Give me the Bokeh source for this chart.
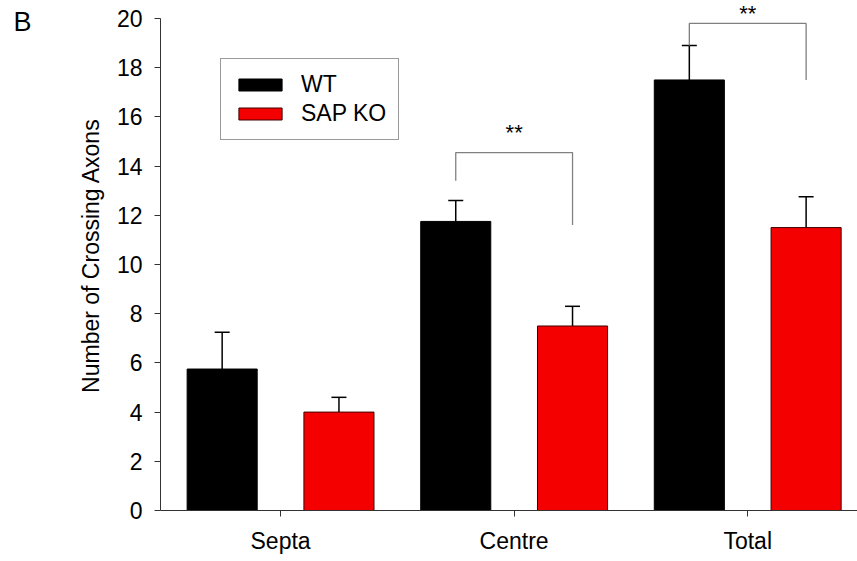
import numpy as np
from bokeh.plotting import figure
from bokeh.models import (Range1d, FixedTicker, ColumnDataSource, Whisker, TeeHead,
                          Legend, LegendItem, Label, LinearAxis)
from bokeh.transform import dodge
from bokeh.embed import file_html
from bokeh.resources import INLINE

# ---- data ----
categories = ["Septa", "Centre", "Total"]
wt_values = [5.75, 11.75, 17.5]
wt_errors = [1.5, 0.85, 1.4]
ko_values = [4.0, 7.5, 11.5]
ko_errors = [0.6, 0.8, 1.25]
series_names = ["WT", "SAP KO"]
y_ticks = [0, 2, 4, 6, 8, 10, 12, 14, 16, 18, 20]
# significance brackets (between WT and SAP KO of a category)
sig_categories = ["Centre", "Total"]
sig_top = [14.55, 19.8]
sig_left_bottom = [13.4, 18.9]
sig_right_bottom = [11.6, 17.5]
sig_text = ["**", "**"]
sig_text_y = [15.88, 20.72]
panel_letter = "B"
panel_letter_y = 19.84

FONT = "Liberation Sans"
RED = "#f40000"
OFF = 0.25
BW = 0.30

pos = np.arange(1, len(categories) + 1).astype(float)
cat_pos = dict(zip(categories, pos))

p = figure(width=857, height=561, output_backend="svg", toolbar_location=None,
           x_range=Range1d(0.486, 3.47), y_range=Range1d(0, 20.73),
           min_border_left=160, min_border_right=0, min_border_top=0,
           min_border_bottom=51)
p.outline_line_color = None
p.grid.visible = False
p.background_fill_color = "white"

src = ColumnDataSource(dict(x=pos, wt=wt_values, ko=ko_values,
                            wt_up=np.array(wt_values) + np.array(wt_errors),
                            ko_up=np.array(ko_values) + np.array(ko_errors)))

r_wt = p.vbar(x=dodge("x", -OFF), top="wt", width=BW, source=src,
              fill_color="black", line_color="black", line_width=1)
r_ko = p.vbar(x=dodge("x", OFF), top="ko", width=BW, source=src,
              fill_color=RED, line_color="#400000", line_width=1)

for base, up, off in [("wt", "wt_up", -OFF), ("ko", "ko_up", OFF)]:
    w = Whisker(base=dodge("x", off), lower=base, upper=up, source=src,
                dimension="height", line_color="black", line_width=1.5,
                upper_head=TeeHead(size=15, line_color="black", line_width=1.5),
                lower_head=None)
    p.add_layout(w)

# significance brackets
xs, ys = [], []
for c, t, lb, rb in zip(sig_categories, sig_top, sig_left_bottom, sig_right_bottom):
    cx = cat_pos[c]
    xs.append([cx - OFF, cx - OFF, cx + OFF, cx + OFF])
    ys.append([lb, t, t, rb])
p.multi_line(xs, ys, line_color="#808080", line_width=1.3)
for c, t, ty in zip(sig_categories, sig_text, sig_text_y):
    p.add_layout(Label(x=cat_pos[c], y=ty, text=t, text_align="center",
                       text_baseline="top", text_font=FONT,
                       text_font_size="22px", text_color="black"))

# axes
for ax in (p.xaxis[0], p.yaxis[0]):
    ax.axis_line_color = "#333333"
    ax.major_tick_line_color = "#333333"
    ax.major_tick_out = 6
    ax.major_tick_in = 0
    ax.minor_tick_line_color = None
    ax.major_label_text_font = FONT
    ax.major_label_text_font_size = "23px"
    ax.major_label_text_color = "black"

p.xaxis.ticker = FixedTicker(ticks=list(pos))
p.xaxis.major_label_overrides = {float(v): c for v, c in zip(pos, categories)}
p.xaxis.major_label_standoff = 11

p.yaxis.ticker = FixedTicker(ticks=y_ticks)
p.yaxis.bounds = (0, 20)
p.yaxis.major_label_standoff = 12
p.yaxis.axis_label = "Number of Crossing Axons"
p.yaxis.axis_label_text_font = FONT
p.yaxis.axis_label_text_font_size = "23px"
p.yaxis.axis_label_text_font_style = "normal"
p.yaxis.axis_label_text_color = "black"
p.yaxis.axis_label_standoff = 10

# panel letter, as the only tick label of an otherwise invisible outer axis
b_axis = LinearAxis(ticker=FixedTicker(ticks=[panel_letter_y]),
                    major_label_overrides={panel_letter_y: panel_letter},
                    axis_line_color=None, major_tick_line_color=None,
                    minor_tick_line_color=None, major_tick_out=0, major_tick_in=0,
                    major_label_standoff=43,
                    major_label_text_font=FONT, major_label_text_font_size="27px",
                    major_label_text_color="black")
p.add_layout(b_axis, "left")

legend = Legend(items=[LegendItem(label=series_names[0], renderers=[r_wt]),
                       LegendItem(label=series_names[1], renderers=[r_ko])],
                location=(60, 370), orientation="vertical",
                label_text_font=FONT, label_text_font_size="23px",
                label_text_color="black",
                glyph_width=54, glyph_height=15, label_height=27,
                label_standoff=14, padding=12, spacing=2, margin=0,
                border_line_color="#333333", border_line_width=1,
                background_fill_alpha=1.0)
p.add_layout(legend, "center")

open("out.html", "w").write(file_html(p, INLINE))
